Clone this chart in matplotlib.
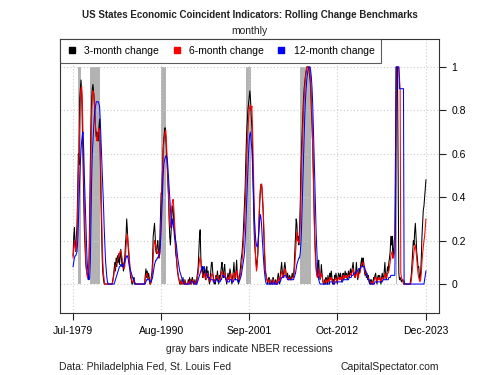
import numpy as np
import pandas as pd
import matplotlib
matplotlib.use('Agg')
import matplotlib.pyplot as plt
from matplotlib.lines import Line2D

plt.rcParams['font.family'] = ['Liberation Sans', 'DejaVu Sans']

# monthly, Jul-1979 .. Dec-2023 (one row per year)
chg3 = [
    0.13, 0.22, 0.26, 0.18, 0.15, 0.22,  # 1979 (Jul-Dec)
    0.28, 0.45, 0.6, 0.55, 0.85, 0.9, 0.94, 0.88, 0.72, 0.55, 0.4, 0.25,  # 1980
    0.17, 0.1, 0.07, 0.05, 0.04, 0.02, 0.1, 0.3, 0.55, 0.72, 0.85, 0.9,  # 1981
    0.92, 0.88, 0.85, 0.78, 0.72, 0.68, 0.7, 0.66, 0.66, 0.72, 0.76, 0.6,  # 1982
    0.4, 0.25, 0.12, 0.05, 0.02, 0, 0, 0, 0, 0, 0, 0,  # 1983
    0, 0, 0, 0, 0, 0, 0.02, 0.04, 0.07, 0.1, 0.06, 0.12,  # 1984
    0.08, 0.13, 0.1, 0.14, 0.09, 0.12, 0.16, 0.12, 0.08, 0.1, 0.06, 0.08,  # 1985
    0.12, 0.18, 0.22, 0.3, 0.25, 0.18, 0.14, 0.1, 0.06, 0.03, 0.02, 0,  # 1986
    0, 0.02, 0.03, 0, 0, 0, 0, 0, 0, 0, 0, 0,  # 1987
    0, 0, 0, 0, 0, 0, 0, 0.04, 0.07, 0.03, 0.06, 0.02,  # 1988
    0.05, 0.03, 0, 0, 0.03, 0.05, 0.1, 0.22, 0.25, 0.28, 0.22, 0.15,  # 1989
    0.14, 0.18, 0.2, 0.15, 0.12, 0.2, 0.3, 0.42, 0.42, 0.52, 0.62, 0.67,  # 1990
    0.7, 0.72, 0.68, 0.62, 0.55, 0.48, 0.42, 0.3, 0.22, 0.18, 0.24, 0.3,  # 1991
    0.36, 0.35, 0.3, 0.22, 0.2, 0.14, 0.12, 0.08, 0.05, 0.03, 0.02, 0,  # 1992
    0, 0.02, 0, 0, 0.03, 0, 0, 0.02, 0, 0, 0, 0,  # 1993
    0.02, 0, 0.03, 0, 0.02, 0, 0.03, 0.02, 0, 0, 0.02, 0,  # 1994
    0, 0.03, 0.05, 0.08, 0.15, 0.22, 0.25, 0.12, 0.06, 0.08, 0.03, 0.05,  # 1995
    0.08, 0.04, 0.02, 0.06, 0.08, 0.03, 0.06, 0.02, 0, 0.03, 0.06, 0.1,  # 1996
    0.1, 0.05, 0.03, 0, 0.02, 0, 0.04, 0.02, 0.06, 0.03, 0, 0.04,  # 1997
    0.02, 0.05, 0.08, 0.1, 0.05, 0.03, 0.07, 0.09, 0.04, 0.02, 0, 0.03,  # 1998
    0.05, 0.02, 0.04, 0.07, 0.05, 0.02, 0, 0.03, 0.06, 0.1, 0.04, 0.02,  # 1999
    0.06, 0.11, 0.05, 0.02, 0, 0.03, 0.05, 0.08, 0.12, 0.14, 0.18, 0.23,  # 2000
    0.3, 0.38, 0.45, 0.58, 0.68, 0.74, 0.8, 0.83, 0.86, 0.89, 0.85, 0.78,  # 2001
    0.72, 0.6, 0.45, 0.3, 0.2, 0.15, 0.12, 0.08, 0.1, 0.14, 0.2, 0.3,  # 2002
    0.38, 0.44, 0.46, 0.45, 0.4, 0.34, 0.25, 0.15, 0.08, 0.05, 0.03, 0.02,  # 2003
    0, 0.02, 0.03, 0, 0, 0.02, 0, 0, 0.03, 0.02, 0, 0,  # 2004
    0.02, 0, 0, 0.03, 0.05, 0.02, 0, 0.04, 0.07, 0.1, 0.06, 0.03,  # 2005
    0.05, 0.08, 0.1, 0.07, 0.04, 0.03, 0.05, 0.03, 0.02, 0.04, 0.03, 0.02,  # 2006
    0.03, 0.05, 0.03, 0.04, 0.08, 0.15, 0.22, 0.3, 0.28, 0.2, 0.22, 0.18,  # 2007
    0.25, 0.36, 0.5, 0.62, 0.7, 0.78, 0.85, 0.9, 0.93, 0.96, 0.98, 1.0,  # 2008
    1.0, 1.0, 1.0, 0.97, 0.94, 0.9, 0.8, 0.72, 0.62, 0.5, 0.35, 0.22,  # 2009
    0.15, 0.08, 0.05, 0.04, 0.08, 0.11, 0.05, 0.02, 0.04, 0.09, 0.05, 0.02,  # 2010
    0, 0, 0.02, 0, 0.03, 0.02, 0, 0.04, 0.02, 0, 0.05, 0.03,  # 2011
    0.06, 0.03, 0, 0.02, 0, 0.04, 0.02, 0.05, 0.03, 0, 0.03, 0.05,  # 2012
    0.04, 0.02, 0.05, 0.03, 0.01, 0.04, 0.05, 0.02, 0.04, 0.06, 0.03, 0.05,  # 2013
    0.02, 0.04, 0.06, 0.03, 0.05, 0.07, 0.04, 0.06, 0.08, 0.1, 0.06, 0.04,  # 2014
    0.03, 0.06, 0.1, 0.05, 0.02, 0.04, 0.07, 0.05, 0.08, 0.1, 0.12, 0.08,  # 2015
    0.12, 0.1, 0.06, 0.04, 0.06, 0.03, 0.05, 0.02, 0.04, 0.01, 0, 0.02,  # 2016
    0, 0.02, 0, 0, 0.03, 0.02, 0.04, 0.05, 0.02, 0, 0.03, 0.04,  # 2017
    0.02, 0.04, 0.02, 0, 0.03, 0.05, 0.03, 0.02, 0.06, 0.1, 0.04, 0.02,  # 2018
    0.05, 0.08, 0.06, 0.1, 0.12, 0.15, 0.22, 0.18, 0.22, 0.12, 0.15, 0.2,  # 2019
    0.22, 0.6, 1.0, 1.0, 1.0, 0.55, 0.05, 0.02, 0.03, 0.02, 0.01, 0.02,  # 2020
    0.02, 0, 0, 0, 0, 0, 0, 0, 0, 0, 0, 0,  # 2021
    0.02, 0.05, 0.1, 0.15, 0.2, 0.18, 0.24, 0.28, 0.22, 0.15, 0.12, 0.08,  # 2022
    0.08, 0.04, 0.02, 0.05, 0.12, 0.22, 0.28, 0.34, 0.36, 0.4, 0.44, 0.48,  # 2023
]

chg6 = [
    0.12, 0.16, 0.2, 0.18, 0.15, 0.17,  # 1979
    0.22, 0.35, 0.5, 0.62, 0.75, 0.85, 0.9, 0.91, 0.85, 0.7, 0.52, 0.35,  # 1980
    0.22, 0.12, 0.07, 0.04, 0.03, 0.05, 0.08, 0.2, 0.42, 0.62, 0.78, 0.86,  # 1981
    0.89, 0.88, 0.84, 0.78, 0.72, 0.68, 0.66, 0.67, 0.7, 0.72, 0.7, 0.62,  # 1982
    0.5, 0.35, 0.2, 0.1, 0.05, 0.02, 0, 0, 0, 0, 0, 0,  # 1983
    0, 0, 0, 0, 0, 0, 0.01, 0.03, 0.05, 0.07, 0.08, 0.09,  # 1984
    0.1, 0.11, 0.12, 0.13, 0.14, 0.15, 0.155, 0.14, 0.12, 0.1, 0.08, 0.07,  # 1985
    0.08, 0.12, 0.17, 0.21, 0.23, 0.2, 0.16, 0.12, 0.08, 0.05, 0.03, 0.01,  # 1986
    0.01, 0.01, 0.02, 0.01, 0, 0, 0, 0, 0, 0, 0, 0,  # 1987
    0, 0, 0, 0, 0, 0, 0, 0.02, 0.04, 0.05, 0.04, 0.03,  # 1988
    0.03, 0.02, 0.01, 0, 0.01, 0.03, 0.06, 0.12, 0.17, 0.2, 0.19, 0.17,  # 1989
    0.15, 0.14, 0.15, 0.14, 0.12, 0.14, 0.2, 0.3, 0.42, 0.52, 0.6, 0.65,  # 1990
    0.68, 0.7, 0.71, 0.66, 0.58, 0.5, 0.42, 0.35, 0.28, 0.26, 0.3, 0.35,  # 1991
    0.38, 0.39, 0.36, 0.3, 0.24, 0.18, 0.13, 0.09, 0.06, 0.04, 0.02, 0.01,  # 1992
    0, 0.01, 0.01, 0, 0.01, 0.02, 0, 0, 0.01, 0, 0, 0,  # 1993
    0.01, 0, 0.01, 0.02, 0.01, 0, 0.01, 0.02, 0.01, 0, 0.01, 0,  # 1994
    0, 0.01, 0.03, 0.05, 0.08, 0.11, 0.125, 0.1, 0.07, 0.05, 0.04, 0.03,  # 1995
    0.04, 0.05, 0.03, 0.02, 0.03, 0.05, 0.04, 0.03, 0.02, 0.01, 0.02, 0.04,  # 1996
    0.05, 0.04, 0.02, 0.01, 0.01, 0.02, 0.03, 0.03, 0.04, 0.03, 0.02, 0.02,  # 1997
    0.02, 0.03, 0.05, 0.06, 0.05, 0.04, 0.04, 0.05, 0.04, 0.02, 0.01, 0.02,  # 1998
    0.03, 0.03, 0.02, 0.04, 0.05, 0.03, 0.02, 0.01, 0.03, 0.05, 0.05, 0.03,  # 1999
    0.03, 0.06, 0.06, 0.04, 0.02, 0.02, 0.03, 0.05, 0.07, 0.1, 0.13, 0.17,  # 2000
    0.22, 0.28, 0.35, 0.45, 0.55, 0.63, 0.7, 0.76, 0.8, 0.82, 0.825, 0.8,  # 2001
    0.82, 0.72, 0.6, 0.45, 0.3, 0.18, 0.1, 0.06, 0.08, 0.14, 0.22, 0.32,  # 2002
    0.4, 0.44, 0.46, 0.46, 0.42, 0.36, 0.28, 0.18, 0.1, 0.05, 0.03, 0.02,  # 2003
    0.01, 0.01, 0.02, 0.01, 0, 0.01, 0.01, 0, 0.01, 0.02, 0.01, 0,  # 2004
    0.01, 0.01, 0, 0.01, 0.03, 0.02, 0.01, 0.02, 0.04, 0.06, 0.05, 0.03,  # 2005
    0.03, 0.05, 0.07, 0.06, 0.04, 0.03, 0.03, 0.02, 0.02, 0.03, 0.02, 0.02,  # 2006
    0.02, 0.03, 0.03, 0.03, 0.05, 0.09, 0.14, 0.2, 0.24, 0.2, 0.2, 0.19,  # 2007
    0.2, 0.28, 0.4, 0.52, 0.63, 0.72, 0.8, 0.86, 0.91, 0.95, 0.98, 1.0,  # 2008
    1.0, 1.0, 1.0, 1.0, 0.96, 0.92, 0.85, 0.75, 0.62, 0.48, 0.32, 0.2,  # 2009
    0.12, 0.07, 0.04, 0.03, 0.05, 0.07, 0.05, 0.03, 0.03, 0.05, 0.04, 0.02,  # 2010
    0.01, 0, 0.01, 0.01, 0.02, 0.01, 0.01, 0.02, 0.02, 0.01, 0.03, 0.02,  # 2011
    0.03, 0.02, 0.01, 0.01, 0, 0.02, 0.02, 0.03, 0.02, 0.01, 0.02, 0.03,  # 2012
    0.03, 0.02, 0.03, 0.03, 0.02, 0.02, 0.04, 0.03, 0.03, 0.04, 0.03, 0.04,  # 2013
    0.03, 0.03, 0.04, 0.04, 0.04, 0.05, 0.04, 0.05, 0.06, 0.07, 0.05, 0.04,  # 2014
    0.03, 0.04, 0.06, 0.05, 0.03, 0.03, 0.05, 0.05, 0.06, 0.08, 0.09, 0.1,  # 2015
    0.1, 0.09, 0.07, 0.05, 0.05, 0.04, 0.04, 0.03, 0.03, 0.02, 0.01, 0.01,  # 2016
    0, 0.01, 0.01, 0, 0.01, 0.02, 0.03, 0.03, 0.02, 0.01, 0.02, 0.03,  # 2017
    0.02, 0.03, 0.02, 0.01, 0.02, 0.03, 0.03, 0.02, 0.03, 0.05, 0.04, 0.03,  # 2018
    0.03, 0.05, 0.05, 0.06, 0.08, 0.1, 0.13, 0.14, 0.15, 0.12, 0.12, 0.14,  # 2019
    0.15, 0.35, 0.75, 1.0, 1.0, 1.0, 1.0, 0.95, 0.9, 0.05, 0.03, 0.02,  # 2020
    0.02, 0.01, 0, 0, 0, 0, 0, 0, 0, 0, 0, 0,  # 2021
    0, 0.02, 0.05, 0.08, 0.12, 0.15, 0.17, 0.18, 0.15, 0.12, 0.08, 0.05,  # 2022
    0.03, 0.02, 0.01, 0.02, 0.05, 0.1, 0.14, 0.17, 0.2, 0.22, 0.26, 0.3,  # 2023
]

chg12 = [
    0.08, 0.1, 0.12, 0.13, 0.13, 0.14,  # 1979
    0.15, 0.2, 0.28, 0.38, 0.48, 0.56, 0.62, 0.66, 0.69, 0.7, 0.62, 0.5,  # 1980
    0.4, 0.3, 0.2, 0.12, 0.07, 0.04, 0.02, 0.03, 0.1, 0.3, 0.48, 0.6,  # 1981
    0.66, 0.72, 0.77, 0.8, 0.82, 0.84, 0.84, 0.84, 0.84, 0.83, 0.82, 0.76,  # 1982
    0.68, 0.6, 0.52, 0.45, 0.36, 0.26, 0.18, 0.11, 0.07, 0.03, 0.01, 0,  # 1983
    0, 0, 0, 0, 0, 0, 0, 0, 0, 0.01, 0.02, 0.03,  # 1984
    0.04, 0.05, 0.06, 0.07, 0.08, 0.08, 0.09, 0.09, 0.09, 0.08, 0.08, 0.09,  # 1985
    0.1, 0.11, 0.12, 0.13, 0.13, 0.12, 0.1, 0.08, 0.07, 0.06, 0.05, 0.04,  # 1986
    0.03, 0.02, 0.02, 0.01, 0, 0, 0, 0, 0, 0, 0, 0,  # 1987
    0, 0, 0, 0, 0, 0, 0, 0, 0.01, 0.02, 0.02, 0.02,  # 1988
    0.02, 0.02, 0.01, 0.01, 0.01, 0.02, 0.03, 0.05, 0.07, 0.09, 0.1, 0.11,  # 1989
    0.11, 0.12, 0.12, 0.13, 0.13, 0.14, 0.18, 0.25, 0.33, 0.42, 0.5, 0.55,  # 1990
    0.57, 0.58, 0.59, 0.59, 0.58, 0.55, 0.5, 0.44, 0.39, 0.35, 0.3, 0.26,  # 1991
    0.3, 0.28, 0.26, 0.24, 0.22, 0.2, 0.18, 0.15, 0.12, 0.1, 0.08, 0.06,  # 1992
    0.05, 0.04, 0.03, 0.02, 0.02, 0.01, 0, 0, 0, 0, 0, 0,  # 1993
    0, 0, 0, 0.01, 0.01, 0.01, 0.01, 0.01, 0.01, 0, 0, 0,  # 1994
    0, 0, 0.01, 0.02, 0.03, 0.04, 0.05, 0.06, 0.07, 0.08, 0.08, 0.07,  # 1995
    0.08, 0.07, 0.06, 0.05, 0.04, 0.04, 0.03, 0.03, 0.03, 0.02, 0.02, 0.02,  # 1996
    0.02, 0.02, 0.01, 0.01, 0.01, 0.01, 0.02, 0.02, 0.02, 0.01, 0.01, 0.01,  # 1997
    0.01, 0.02, 0.02, 0.03, 0.04, 0.04, 0.04, 0.03, 0.03, 0.02, 0.02, 0.01,  # 1998
    0.01, 0.01, 0.01, 0.02, 0.02, 0.02, 0.01, 0.01, 0.01, 0.02, 0.02, 0.02,  # 1999
    0.02, 0.02, 0.02, 0.01, 0.01, 0.01, 0.02, 0.03, 0.04, 0.06, 0.08, 0.1,  # 2000
    0.12, 0.15, 0.2, 0.28, 0.36, 0.44, 0.52, 0.6, 0.66, 0.69, 0.7, 0.66,  # 2001
    0.62, 0.55, 0.46, 0.38, 0.3, 0.24, 0.2, 0.18, 0.17, 0.18, 0.22, 0.26,  # 2002
    0.3, 0.32, 0.3, 0.26, 0.2, 0.15, 0.1, 0.06, 0.03, 0.01, 0, 0,  # 2003
    0, 0, 0, 0, 0, 0, 0.01, 0, 0, 0, 0.01, 0,  # 2004
    0, 0, 0, 0, 0.01, 0.01, 0.01, 0.01, 0.02, 0.03, 0.03, 0.03,  # 2005
    0.03, 0.04, 0.04, 0.04, 0.03, 0.03, 0.02, 0.02, 0.02, 0.02, 0.02, 0.02,  # 2006
    0.02, 0.02, 0.02, 0.02, 0.03, 0.04, 0.05, 0.07, 0.09, 0.1, 0.11, 0.12,  # 2007
    0.12, 0.14, 0.18, 0.25, 0.35, 0.46, 0.57, 0.68, 0.78, 0.85, 0.9, 0.94,  # 2008
    0.97, 0.99, 1.0, 1.0, 1.0, 0.98, 0.95, 0.9, 0.82, 0.72, 0.6, 0.48,  # 2009
    0.36, 0.25, 0.17, 0.1, 0.05, 0.02, 0.01, 0, 0, 0, 0, 0,  # 2010
    0, 0, 0, 0, 0, 0, 0, 0, 0, 0, 0.01, 0.01,  # 2011
    0.01, 0.01, 0.01, 0, 0, 0, 0.01, 0.01, 0.01, 0.01, 0.01, 0.01,  # 2012
    0.01, 0.01, 0.01, 0.01, 0.01, 0.01, 0.02, 0.02, 0.02, 0.02, 0.02, 0.02,  # 2013
    0.02, 0.02, 0.02, 0.03, 0.03, 0.03, 0.03, 0.04, 0.04, 0.04, 0.05, 0.05,  # 2014
    0.05, 0.05, 0.06, 0.06, 0.06, 0.07, 0.07, 0.07, 0.07, 0.08, 0.08, 0.08,  # 2015
    0.08, 0.08, 0.08, 0.07, 0.06, 0.05, 0.04, 0.03, 0.02, 0.02, 0.01, 0,  # 2016
    0, 0, 0, 0, 0, 0, 0.01, 0.01, 0.01, 0.01, 0.01, 0.01,  # 2017
    0.01, 0.01, 0.01, 0.01, 0.01, 0.01, 0.02, 0.02, 0.02, 0.02, 0.02, 0.02,  # 2018
    0.02, 0.02, 0.02, 0.03, 0.03, 0.03, 0.04, 0.04, 0.04, 0.04, 0.04, 0.04,  # 2019
    0.04, 0.3, 1.0, 1.0, 1.0, 1.0, 1.0, 0.9, 0.9, 0.9, 0.9, 0.9,  # 2020
    0.9, 0.9, 0.02, 0, 0, 0, 0, 0, 0, 0, 0, 0,  # 2021
    0, 0, 0, 0, 0, 0, 0, 0, 0, 0, 0, 0,  # 2022
    0, 0, 0, 0, 0, 0, 0, 0, 0, 0.02, 0.04, 0.06,  # 2023
]

dates = pd.date_range('1979-07-01', periods=len(chg3), freq='MS')

# NBER recessions (first month, last month)
rec_start = ['1980-02-01', '1981-08-01', '1990-08-01', '2001-04-01', '2008-01-01', '2020-03-01']
rec_end = ['1980-07-01', '1982-11-01', '1991-03-01', '2001-11-01', '2009-06-01', '2020-04-01']

tick_dates = ['1979-07-01', '1990-08-01', '2001-09-01', '2012-10-01', '2023-12-01']
tick_labels = ['Jul-1979', 'Aug-1990', 'Sep-2001', 'Oct-2012', 'Dec-2023']

fig = plt.figure(figsize=(5, 3.75), dpi=100)
ax = fig.add_axes([0.12, 0.165, 0.758, 0.731])

for s, e in zip(rec_start, rec_end):
    ax.fill_between([pd.Timestamp(s), pd.Timestamp(e)], 0, 1, color='#b3b3b3', lw=0, zorder=1)

ax.plot(dates, chg3, color='black', lw=0.75, zorder=3)
ax.plot(dates, chg6, color='red', lw=0.75, zorder=4)
ax.plot(dates, chg12, color='blue', lw=0.75, zorder=5)

span = dates[-1] - dates[0]
ax.set_xlim(dates[0] - span * 0.037, dates[-1] + span * 0.037)
ax.set_ylim(-0.134, 1.129)

ax.set_xticks(pd.to_datetime(tick_dates))
ax.set_xticklabels(tick_labels)
ax.set_yticks([0, 0.2, 0.4, 0.6, 0.8, 1])
ax.set_yticklabels(['0', '0.2', '0.4', '0.6', '0.8', '1'])
ax.yaxis.tick_right()
ax.tick_params(axis='both', labelsize=7.5, length=5, width=0.8, color='#222222')
ax.tick_params(axis='x', pad=4)
ax.tick_params(axis='y', pad=4)
ax.grid(True, color='#cccccc', ls=(0, (1, 2)), lw=0.8, zorder=0)
for sp in ax.spines.values():
    sp.set_linewidth(0.8)
    sp.set_color('#333333')

handles = [Line2D([], [], ls='none', marker='s', markersize=5, color=c) for c in ['black', 'red', 'blue']]
leg = ax.legend(handles, ['3-month change', '6-month change', '12-month change'],
                loc='upper left', bbox_to_anchor=(0, 1), ncol=3, fontsize=7.5,
                frameon=True, fancybox=False, borderaxespad=0, handlelength=1,
                handletextpad=0.7, columnspacing=1.15, borderpad=0.65)
leg.get_frame().set_edgecolor('#333333')
leg.get_frame().set_linewidth(0.8)
leg.set_zorder(10)

fig.text(0.499, 0.96, 'US States Economic Coincident Indicators: Rolling Change Benchmarks',
         ha='center', va='center', fontsize=7, fontweight='bold', color='#222222')
fig.text(0.499, 0.917, 'monthly', ha='center', va='center', fontsize=7.5, color='#222222')
fig.text(0.499, 0.069, 'gray bars indicate NBER recessions', ha='center', va='center', fontsize=7.5, color='#222222')
fig.text(0.118, 0.021, 'Data: Philadelphia Fed, St. Louis Fed', ha='left', va='center', fontsize=7.5, color='#222222')
fig.text(0.878, 0.021, 'CapitalSpectator.com', ha='right', va='center', fontsize=7.5, color='#222222')

fig.savefig('out.png', dpi=100)
